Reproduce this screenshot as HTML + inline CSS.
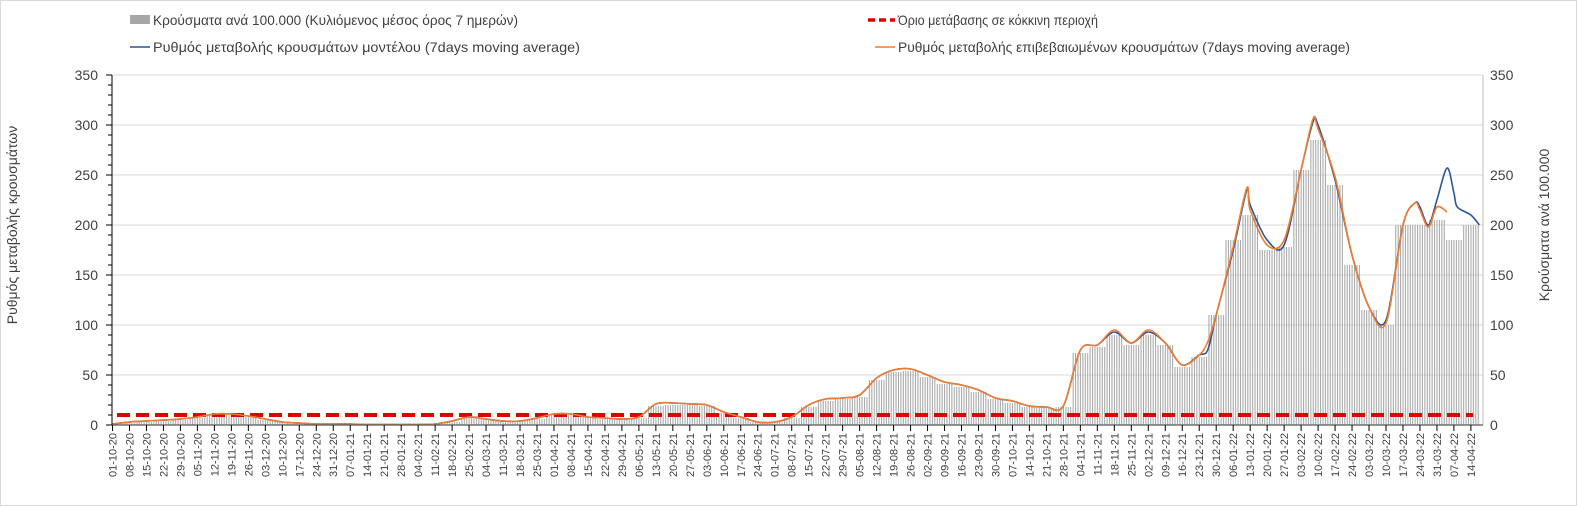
<!DOCTYPE html>
<html><head><meta charset="utf-8">
<style>
html,body{margin:0;padding:0;background:#fff;}
svg{display:block;font-family:"Liberation Sans",sans-serif;}
</style></head>
<body>
<svg id="chart" width="1577" height="506" viewBox="0 0 1577 506" xmlns="http://www.w3.org/2000/svg">
<rect x="0.5" y="0.5" width="1576" height="505" fill="#fff" stroke="#d9d9d9"/>
<g id="grid"></g>
<g id="bars"></g>
<g id="threshold"></g>
<g id="lines"></g>
<g id="axes"></g>
<g font-size="14" fill="#404040">
  <rect x="130" y="15" width="20" height="9" fill="#a6a6a6"/>
  <text x="153" y="25" textLength="365" lengthAdjust="spacingAndGlyphs">Κρούσματα ανά 100.000 (Κυλιόμενος μέσος όρος 7 ημερών)</text>
  <line x1="868" y1="20" x2="895" y2="20" stroke="#e00000" stroke-width="3.5" stroke-dasharray="7,4"/>
  <text x="898" y="25" textLength="200" lengthAdjust="spacingAndGlyphs">Όριο μετάβασης σε κόκκινη περιοχή</text>
  <line x1="130" y1="47" x2="150" y2="47" stroke="#2f5597" stroke-width="1.5"/>
  <text x="153" y="52" textLength="427" lengthAdjust="spacingAndGlyphs">Ρυθμός μεταβολής κρουσμάτων μοντέλου (7days moving average)</text>
  <line x1="875" y1="47" x2="895" y2="47" stroke="#ed7d31" stroke-width="1.5"/>
  <text x="898" y="52" textLength="452" lengthAdjust="spacingAndGlyphs">Ρυθμός μεταβολής επιβεβαιωμένων κρουσμάτων (7days moving average)</text>
</g>
<text transform="translate(17,225) rotate(-90)" text-anchor="middle" font-size="14" fill="#404040">Ρυθμός μεταβολής κρουσμάτων</text>
<text transform="translate(1549,225) rotate(-90)" text-anchor="middle" font-size="14" fill="#404040">Κρούσματα ανά 100.000</text>
</svg>
<script>
const weekLabels = ["01-10-20","08-10-20","15-10-20","22-10-20","29-10-20","05-11-20","12-11-20","19-11-20","26-11-20","03-12-20","10-12-20","17-12-20","24-12-20","31-12-20","07-01-21","14-01-21","21-01-21","28-01-21","04-02-21","11-02-21","18-02-21","25-02-21","04-03-21","11-03-21","18-03-21","25-03-21","01-04-21","08-04-21","15-04-21","22-04-21","29-04-21","06-05-21","13-05-21","20-05-21","27-05-21","03-06-21","10-06-21","17-06-21","24-06-21","01-07-21","08-07-21","15-07-21","22-07-21","29-07-21","05-08-21","12-08-21","19-08-21","26-08-21","02-09-21","09-09-21","16-09-21","23-09-21","30-09-21","07-10-21","14-10-21","21-10-21","28-10-21","04-11-21","11-11-21","18-11-21","25-11-21","02-12-21","09-12-21","16-12-21","23-12-21","30-12-21","06-01-22","13-01-22","20-01-22","27-01-22","03-02-22","10-02-22","17-02-22","24-02-22","03-03-22","10-03-22","17-03-22","24-03-22","31-03-22","07-04-22","14-04-22"];
const cases = [1,2,3,4,5,7,10,10,8,5,3,2,1,1,1,0.5,0.5,0.5,0.5,1,3,7,6,4,4,6,10,10,8,6,6,7,19,20,20,19,12,7,3,3,7,18,24,26,28,45,53,54,48,41,38,33,26,22,18,17,18,72,78,90,80,90,80,58,68,110,185,210,175,178,255,285,240,160,115,100,200,200,205,185,200];
const lineWeeks = [0,1,2,3,4,5,6,7,8,9,10,11,12,13,14,15,16,17,18,19,20,21,22,23,24,25,26,27,28,29,30,31,32,33,34,35,36,37,38,39,40,41,42,43,44,45,46,47,48,49,50,51,52,53,54,55,56,57,58,59,60,61,62,63,64,64.5,65,66,66.8,67,68,69,70,70.7,71,72,73,74,75,76,76.7,77,77.5,78,78.6,79,79.2,80,80.5];
const model = [1,3,4,5,6,8,11,11,9,6,3,2,1,1,1,0.5,0.5,0.5,0.5,1,4,8,6,4,4,7,11,11,8,7,6,8,21,22,21,20,13,8,3,3,8,20,26,27,30,47,55,56,50,43,40,35,27,24,19,18,19,75,80,93,82,93,82,60,70,75,110,175,235,220,185,180,255,303,300,245,170,118,105,200,222,218,200,225,257,232,218,210,200];
const confirmed = [1,3,4,5,6,8,11,11,9,6,3,2,1,1,1,0.5,0.5,0.5,0.5,1,4,8,6,4,4,7,11,11,8,7,6,8,21,22,21,20,13,8,3,3,8,20,26,27,30,47,55,56,50,43,40,35,27,24,19,18,19,75,80,95,82,95,82,60,70,83,110,178,237,215,180,185,255,306,296,248,170,118,102,200,222,215,198,218,213,null,null,null,null];
const threshold = 10;
const yTicks = [0,50,100,150,200,250,300,350];

const NS = "http://www.w3.org/2000/svg";
const X0 = 112.5, WK = 16.98, Y0 = 425, YS = 1.0;
const xs = w => X0 + w * WK;
const ys = v => Y0 - v * YS;
function mk(tag, attrs, parent){const e=document.createElementNS(NS,tag);for(const k in attrs)e.setAttribute(k,attrs[k]);parent.appendChild(e);return e;}

const grid = document.getElementById('grid');
yTicks.forEach(t=>{
  if(t>0){const g=mk('line',{x1:112,x2:1483,y1:ys(t),y2:ys(t),stroke:'#d9d9d9','stroke-width':1},grid);
  
  }
});

const bars = document.getElementById('bars');
cases.forEach((v,i)=>{
  for(let k=0;k<7;k++){
    const x = xs(i) - WK/2 + (k+0.5)*WK/7;
    if(x<113||x>1481) continue;
    const r = mk('rect',{x:x-0.5,y:ys(v),width:1.1,height:Y0-ys(v),fill:'#ababab'},bars);
    
    
  }
});

const th = document.getElementById('threshold');
const tl = mk('line',{x1:117,x2:1473,y1:ys(threshold),y2:ys(threshold),stroke:'#e00000','stroke-width':4,'stroke-dasharray':'13,6'},th);



const lines = document.getElementById('lines');
function path(vals,color,name){
  const pts=[];
  vals.forEach((v,i)=>{ if(v!==null) pts.push([xs(lineWeeks[i]),ys(v)]); });
  let d='M'+pts[0][0].toFixed(1)+','+pts[0][1].toFixed(1);
  for(let i=0;i<pts.length-1;i++){
    const p0=pts[Math.max(0,i-1)],p1=pts[i],p2=pts[i+1],p3=pts[Math.min(pts.length-1,i+2)];
    const t=0.16;
    const c1=[p1[0]+(p2[0]-p0[0])*t,p1[1]+(p2[1]-p0[1])*t];
    const c2=[p2[0]-(p3[0]-p1[0])*t,p2[1]-(p3[1]-p1[1])*t];
    d+='C'+c1[0].toFixed(1)+','+c1[1].toFixed(1)+' '+c2[0].toFixed(1)+','+c2[1].toFixed(1)+' '+p2[0].toFixed(1)+','+p2[1].toFixed(1);
  }
  const p=mk('path',{d:d,fill:'none',stroke:color,'stroke-width':1.6,'stroke-linejoin':'round'},lines);
  
  
}
path(model,'#2f5597','model-line');
path(confirmed,'#ed7d31','confirmed-line');

const axes = document.getElementById('axes');
const la = mk('line',{x1:112,x2:112,y1:75,y2:425,stroke:'#000','stroke-width':1},axes);


const ra = mk('line',{x1:1483,x2:1483,y1:75,y2:425,stroke:'#bfbfbf','stroke-width':1},axes);


const xa = mk('line',{x1:112,x2:1483,y1:425,y2:425,stroke:'#595959','stroke-width':1.2},axes);


for(let v=0;v<=350;v+=10){
  const big = v%50===0;
  const t=mk('line',{x1:big?106:108,x2:112,y1:ys(v),y2:ys(v),stroke:'#000','stroke-width':1},axes);
  
  
}
yTicks.forEach(t=>{
  const a=mk('text',{x:98,y:ys(t)+5,'text-anchor':'end','font-size':14,fill:'#404040'},axes);
  a.textContent=t;
  
  
  const b=mk('text',{x:1490,y:ys(t)+5,'font-size':14,fill:'#404040'},axes);
  b.textContent=t;
  
  
});
weekLabels.forEach((l,i)=>{
  const x=xs(i);
  const t=mk('line',{x1:x,x2:x,y1:425,y2:431,stroke:'#000','stroke-width':1},axes);
  
  
  const s=mk('text',{transform:`translate(${(x+4).toFixed(1)},433) rotate(-90)`,'text-anchor':'end','font-size':11,fill:'#404040'},axes);
  s.textContent=l;
  
  
});
</script>
</body></html>
